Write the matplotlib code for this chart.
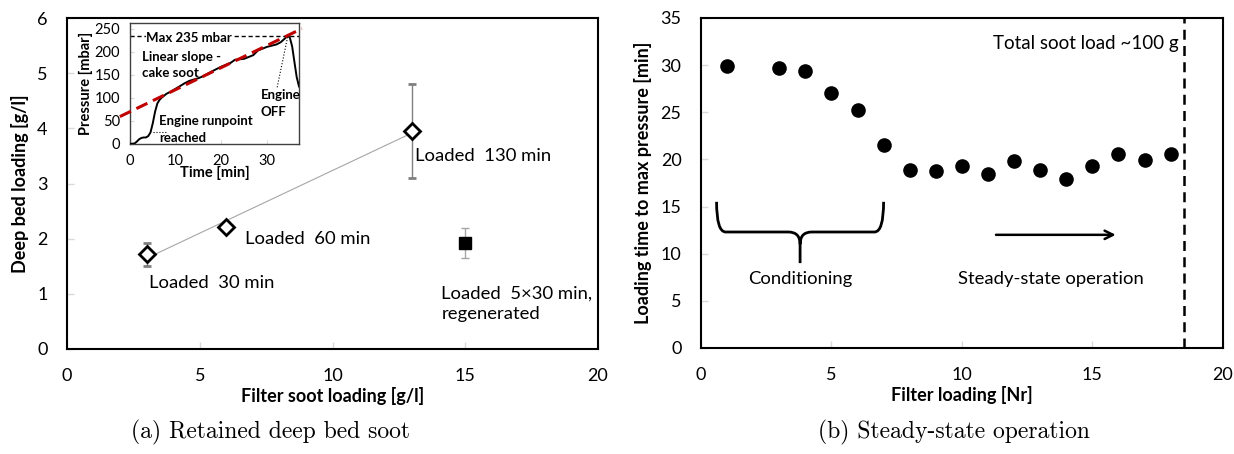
import matplotlib.pyplot as plt
import numpy as np
from matplotlib.path import Path
from matplotlib.patches import PathPatch

# (a) retained deep bed soot
soot_load = [3, 6, 13]
deep_bed = [1.72, 2.22, 3.95]
deep_bed_err = [0.21, 0.08, 0.85]
regen_load = [15]
regen_bed = [1.92]
regen_err = [0.27]

# inset: pressure trace during loading
time_min = [0, 1, 1.5, 2, 2.5, 3, 3.5, 4, 4.5, 5, 5.5, 6, 6.5, 7, 7.5, 8, 9, 10, 11, 12, 13,
            14, 15, 16, 18, 20, 22, 23, 24, 25, 26, 27, 28, 30, 32, 33, 34, 34.5, 35, 35.5,
            36, 36.5, 37]
pressure = [0, 1, 5, 10, 13, 14, 14, 17, 25, 45, 70, 88, 96, 101, 105, 109, 114, 120, 126, 132,
            137, 140, 143, 147, 158, 168, 176, 183, 184, 185, 189, 193, 203, 211, 216, 221, 230,
            235, 231, 212, 178, 145, 125]
fit_intercept = 70
fit_slope = 4.8
max_pressure = 235

# (b) steady-state operation
filter_nr = [1, 3, 4, 5, 6, 7, 8, 9, 10, 11, 12, 13, 14, 15, 16, 17, 18]
load_time = [29.9, 29.7, 29.4, 27.0, 25.2, 21.5, 18.9, 18.8, 19.3, 18.5, 19.8, 18.9, 17.9,
             19.3, 20.6, 19.9, 20.6]
total_load_nr = 18.5

font = ['Lato', 'DejaVu Sans']
plt.rcParams['font.family'] = font

fig = plt.figure(figsize=(12.34, 4.54), dpi=100)
ax1 = fig.add_axes([0.0543, 0.2313, 0.4303, 0.729])
ax2 = fig.add_axes([0.568, 0.2335, 0.423, 0.727])


def style(ax):
    for s in ax.spines.values():
        s.set_linewidth(1.5)
    ax.tick_params(direction='in', color='#d9d9d9', length=5, width=1, labelsize=13, pad=14)


# ---- panel (a)
ax1.plot(soot_load, np.polyval(np.polyfit(soot_load, deep_bed, 1), soot_load),
         color='#a6a6a6', lw=0.8, zorder=1)
ax1.errorbar(soot_load, deep_bed, yerr=deep_bed_err, fmt='D', ms=8, mfc='white', mec='black',
             mew=2, ecolor='#808080', elinewidth=1, capsize=3, zorder=3)
ax1.errorbar(regen_load, regen_bed, yerr=regen_err, fmt='s', ms=9, mfc='black', mec='black',
             ecolor='#a6a6a6', elinewidth=1, capsize=3, zorder=3)
ax1.text(3.1, 1.2, 'Loaded  30 min', fontsize=13.3, va='center')
ax1.text(6.7, 2.0, 'Loaded  60 min', fontsize=13.3, va='center')
ax1.text(13.1, 3.5, 'Loaded  130 min', fontsize=13.3, va='center')
ax1.text(14.1, 0.82, 'Loaded  5\u00d730 min,\nregenerated', fontsize=13.3, va='center',
         linespacing=1.35)
ax1.set_xlim(0, 20)
ax1.set_ylim(0, 6)
ax1.set_xticks([0, 5, 10, 15, 20])
ax1.set_xlabel('Filter soot loading [g/l]', fontsize=13, fontweight='bold', labelpad=2)
ax1.set_ylabel('Deep bed loading [g/l]', fontsize=13, fontweight='bold', labelpad=6)
style(ax1)

# ---- inset
axi = fig.add_axes([0.1053, 0.683, 0.137, 0.2665])
axi.plot(time_min, pressure, color='black', lw=1.4, zorder=3)
fit_t = np.array([-2.2, 37.6])
axi.plot(fit_t, fit_intercept + fit_slope * fit_t, color='#c00000', lw=2.2, ls=(0, (4, 2)),
         clip_on=False, zorder=4)
axi.axhline(max_pressure, color='black', lw=1, ls=(0, (3, 2)), zorder=2)
axi.text(3.6, max_pressure - 4, 'Max 235 mbar', fontsize=9.5, fontweight='bold', va='center',
         bbox=dict(facecolor='white', edgecolor='none', pad=0.3), zorder=3)
axi.text(2.6, 172, 'Linear slope -\ncake soot', fontsize=9.5, fontweight='bold', va='center',
         linespacing=1.45)
axi.text(6.4, 31, 'Engine runpoint\nreached', fontsize=9.5, fontweight='bold', va='center',
         linespacing=1.45)
axi.plot([5.0, 7.8], [26, 26], color='black', lw=0.8, ls=':')
axi.text(28.6, 88, 'Engine\nOFF', fontsize=9.5, fontweight='bold', va='center',
         linespacing=1.45)
axi.plot([34.5, 32.2], [232, 122], color='black', lw=0.8, ls=':')
axi.set_xlim(0, 37)
axi.set_ylim(0, 263)
axi.set_xticks([0, 10, 20, 30])
axi.set_yticks([0, 50, 100, 150, 200, 250])
axi.tick_params(direction='in', color='#d9d9d9', length=3, labelsize=10.5, pad=7)
axi.set_xlabel('Time [min]', fontsize=10.5, fontweight='bold', labelpad=-1)
axi.set_ylabel('Pressure [mbar]', fontsize=10.5, fontweight='bold', labelpad=1)
for s in axi.spines.values():
    s.set_color('#404040')
    s.set_linewidth(1)

# ---- panel (b)
ax2.scatter(filter_nr, load_time, s=90, color='black', zorder=3)
ax2.axvline(total_load_nr, color='black', lw=1.8, ls=(0, (4, 2.5)))
ax2.text(total_load_nr - 0.2, 32.3, 'Total soot load ~100 g', fontsize=13.5, ha='right',
         va='center')

# brace under the conditioning filters
bx0, bx1, bxc = 0.6, 7.0, 3.8
by_top, by_mid, by_tip = 15.5, 12.3, 9.0
verts = [(bx0, by_top), (bx0, by_mid), (bx0 + 0.35, by_mid), (bxc - 0.45, by_mid),
         (bxc, by_mid), (bxc, by_mid - 1.3), (bxc, by_tip),
         (bxc, by_mid - 1.3), (bxc, by_mid), (bxc + 0.45, by_mid), (bx1 - 0.35, by_mid),
         (bx1, by_mid), (bx1, by_top)]
codes = [Path.MOVETO, Path.CURVE3, Path.CURVE3, Path.LINETO, Path.CURVE3, Path.CURVE3,
         Path.LINETO, Path.MOVETO, Path.CURVE3, Path.CURVE3, Path.LINETO, Path.CURVE3,
         Path.CURVE3]
ax2.add_patch(PathPatch(Path(verts, codes), facecolor='none', edgecolor='black', lw=2))
ax2.text(bxc, 7.3, 'Conditioning', fontsize=13.3, ha='center', va='center')
ax2.annotate('', xy=(16.0, 12.0), xytext=(11.2, 12.0),
             arrowprops=dict(arrowstyle='->', lw=1.8, color='black', mutation_scale=15))
ax2.text(13.4, 7.3, 'Steady-state operation', fontsize=13.3, ha='center', va='center')
ax2.set_xlim(0, 20)
ax2.set_ylim(0, 35)
ax2.set_xticks([0, 5, 10, 15, 20])
ax2.set_yticks(range(0, 36, 5))
ax2.set_xlabel('Filter loading [Nr]', fontsize=13, fontweight='bold', labelpad=2)
ax2.set_ylabel('Loading time to max pressure [min]', fontsize=13, fontweight='bold',
               labelpad=6)
style(ax2)

# captions
fig.text(0.2195, 0.035, '(a) Retained deep bed soot', fontsize=17, family='cmr10',
         ha='center')
fig.text(0.773, 0.035, '(b) Steady-state operation', fontsize=17, family='cmr10',
         ha='center')

fig.savefig('out.png', dpi=100)
